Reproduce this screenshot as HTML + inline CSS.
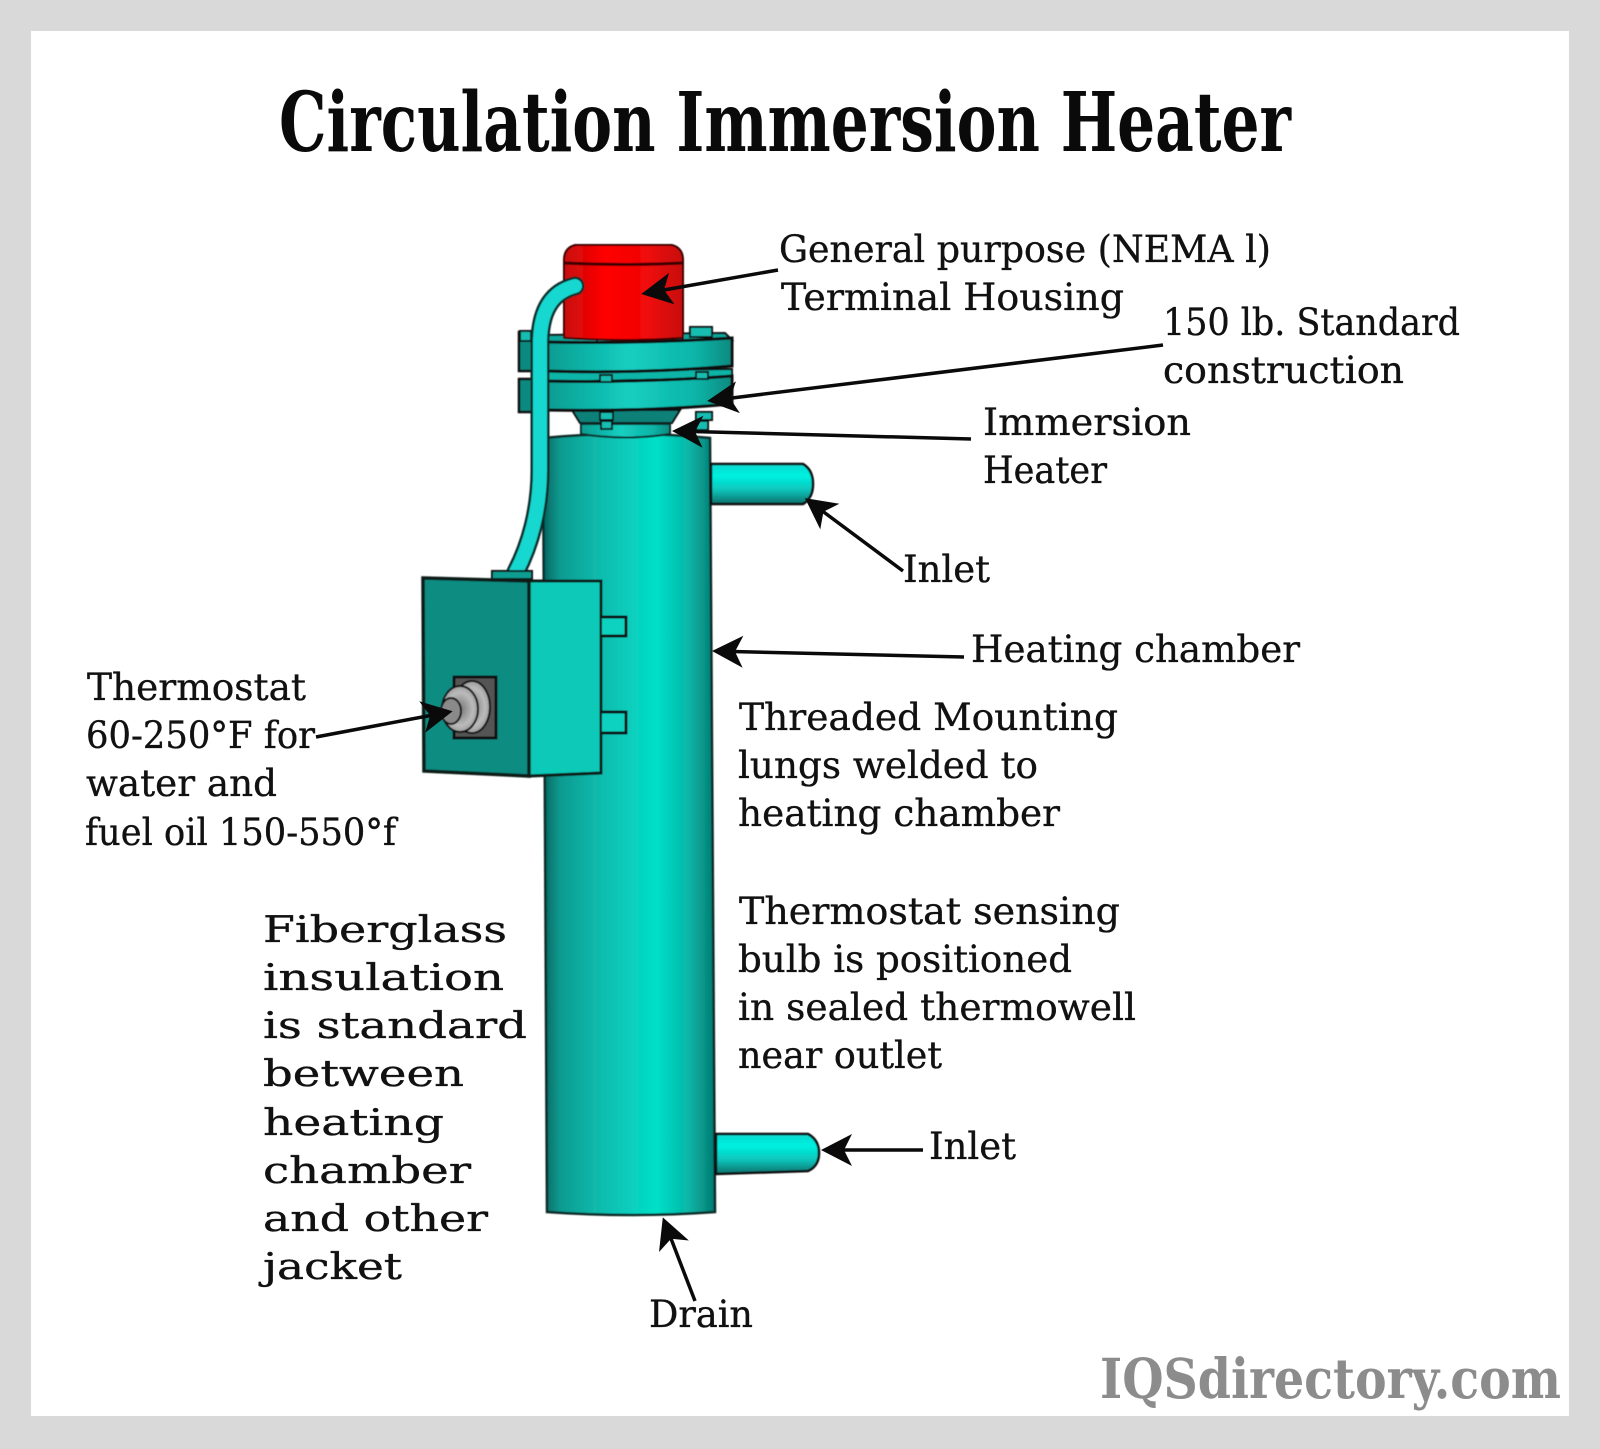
<!DOCTYPE html>
<html><head><meta charset="utf-8"><style>html,body{margin:0;padding:0;background:#fff}svg{display:block}
.t{font-family:"DejaVu Serif","Liberation Serif",serif;font-size:37px;fill:#111;stroke:#111;stroke-width:.35}
.w{font-family:"DejaVu Serif","Liberation Serif",serif;font-size:36px;fill:#111;stroke:#111;stroke-width:.35}
</style></head><body>
<svg width="1600" height="1449" viewBox="0 0 1600 1449" xmlns="http://www.w3.org/2000/svg">
<defs>
<filter id="soft" x="-5%" y="-5%" width="110%" height="110%"><feGaussianBlur stdDeviation="0.6"/></filter>
<linearGradient id="body" x1="0" x2="1" y1="0" y2="0"><stop offset="0" stop-color="#056660"/><stop offset=".1" stop-color="#0a9a90"/><stop offset=".3" stop-color="#12b8aa"/><stop offset=".5" stop-color="#0acdbc"/><stop offset=".66" stop-color="#00e0c8"/><stop offset=".85" stop-color="#08b5a6"/><stop offset="1" stop-color="#067a72"/></linearGradient>
<linearGradient id="pipe" x1="0" x2="0" y1="0" y2="1"><stop offset="0" stop-color="#0ad8d0"/><stop offset=".3" stop-color="#00f0e0"/><stop offset=".65" stop-color="#0bc4ba"/><stop offset="1" stop-color="#066f6a"/></linearGradient>
<linearGradient id="red" x1="0" x2="1" y1="0" y2="0"><stop offset="0" stop-color="#c80c0c"/><stop offset=".35" stop-color="#f00"/><stop offset=".7" stop-color="#f00808"/><stop offset="1" stop-color="#c81010"/></linearGradient>
<linearGradient id="fl" x1="0" x2="1" y1="0" y2="0"><stop offset="0" stop-color="#0a9a90"/><stop offset=".45" stop-color="#14cfc0"/><stop offset=".8" stop-color="#0fb5a8"/><stop offset="1" stop-color="#0a8a80"/></linearGradient>
<radialGradient id="g" cx=".5" cy=".5" r=".6"><stop offset="0" stop-color="#777"/><stop offset=".6" stop-color="#bbb"/><stop offset="1" stop-color="#888"/></radialGradient>
<marker id="a" markerUnits="userSpaceOnUse" markerWidth="60" markerHeight="60" refX="0" refY="0" orient="auto" overflow="visible"><path d="M20 0L-11 -16L-3 0L-11 16Z" fill="#0a0a0a"/></marker>
</defs>
<rect width="1600" height="1449" fill="#d9d9d9"/>
<rect x="31" y="31" width="1538" height="1385" fill="#fff"/>
<text x="279" y="151" font-family="'DejaVu Serif','Liberation Serif',serif" font-weight="700" font-size="82" fill="#0a0a0a" textLength="1012" lengthAdjust="spacingAndGlyphs">Circulation Immersion Heater</text>

<g filter="url(#soft)">
<!-- body -->
<path d="M543 438Q627 430 710 438L715 1212Q631 1218 547 1212Z" fill="url(#body)" stroke="#0a2a28" stroke-width="2.5"/>
<!-- pipes -->
<path d="M711 464H803Q813 470 813 484Q813 498 803 504H711Z" fill="url(#pipe)" stroke="#0a0a0a" stroke-width="2.5"/>
<path d="M716 1134H808Q819 1140 819 1153Q819 1166 808 1171L716 1174Z" fill="url(#pipe)" stroke="#0a0a0a" stroke-width="2.5"/>
<!-- neck and collar -->
<path d="M572 410H680L672 423H580Z" fill="#0a8078" stroke="#0a0a0a" stroke-width="2"/>
<path d="M581 424H670V434Q625 441 581 434Z" fill="url(#fl)" stroke="#0a2a28" stroke-width="2"/>
<!-- bolts lower -->
<g fill="#14bdb0" stroke="#0a0a0a" stroke-width="2"><rect x="600" y="412" width="13" height="8"/><rect x="601" y="421" width="11" height="8"/><rect x="696" y="412" width="16" height="8"/><rect x="696" y="421" width="12" height="9"/></g>
<!-- flange back/side pieces -->
<rect x="519" y="332" width="28" height="39" fill="#0a8a80" stroke="#0a0a0a" stroke-width="2.5"/>
<rect x="519" y="379" width="28" height="33" fill="#0a8a80" stroke="#0a0a0a" stroke-width="2.5"/>
<path d="M547 335L725 333L732 340L547 344Z" fill="#0ea59a" stroke="#0a0a0a" stroke-width="2"/>
<path d="M547 371L732 369V378L547 382Z" fill="#0cb5a8" stroke="#0a0a0a" stroke-width="2"/>
<!-- flanges -->
<path d="M545 381Q640 383 732 376V404Q640 412 545 410Z" fill="url(#fl)" stroke="#0a0a0a" stroke-width="3"/>
<path d="M545 342Q640 344 732 338V366Q640 374 545 371Z" fill="url(#fl)" stroke="#0a0a0a" stroke-width="3"/>
<!-- bolts upper -->
<g fill="#14bdb0" stroke="#0a0a0a" stroke-width="2"><rect x="690" y="327" width="22" height="10"/><rect x="597" y="334" width="16" height="8"/><rect x="520" y="331" width="11" height="10"/><rect x="600" y="375" width="12" height="7"/><rect x="696" y="372" width="12" height="7"/></g>
<!-- red housing -->
<path d="M564 338V260Q564 248 575 245H672Q683 248 683 260V338Q624 342 564 338Z" fill="url(#red)" stroke="#3a0505" stroke-width="2"/>
<path d="M564 263Q624 266 683 263" fill="none" stroke="#3a0505" stroke-width="3"/>
<!-- cable -->
<path d="M575 286C556 291 541 305 540 340L540 470C540 510 530 545 516 572" fill="none" stroke="#0a2a28" stroke-width="19" stroke-linecap="round"/>
<path d="M575 286C556 291 541 305 540 340L540 470C540 510 530 545 516 572" fill="none" stroke="#17d8d0" stroke-width="14" stroke-linecap="round"/>
<!-- box -->
<rect x="492" y="571" width="40" height="8" fill="#0d9d92" stroke="#0a0a0a" stroke-width="2"/>
<path d="M529 581L601 581V773L529 776Z" fill="#0ec9b8" stroke="#0a1a18" stroke-width="3"/>
<path d="M423 578L529 581V776L424 771Z" fill="#078c82" stroke="#0a1a18" stroke-width="3.5"/>
<path d="M602 617H626V636H602M602 712H626V733H602" fill="#0fd2c0" stroke="#0a0a0a" stroke-width="3"/>
<rect x="454" y="677" width="42" height="61" fill="#555" stroke="#0a0a0a" stroke-width="3"/>
<ellipse cx="472" cy="707" rx="18" ry="26" fill="url(#g)" stroke="#111" stroke-width="2"/>
<ellipse cx="460" cy="709" rx="18" ry="23" fill="url(#g)" stroke="#111" stroke-width="2"/>
<ellipse cx="451" cy="711" rx="10" ry="13" fill="#8a8a8a" stroke="#111" stroke-width="2"/>
</g>
<!-- arrows -->
<g fill="none" stroke="#0a0a0a" stroke-width="3.5">
<line x1="778" y1="270" x2="661" y2="290.5" marker-end="url(#a)"/>
<line x1="1163" y1="345" x2="727" y2="398.6" marker-end="url(#a)"/>
<line x1="971" y1="439" x2="692" y2="431.5" marker-end="url(#a)"/>
<line x1="903" y1="571" x2="821" y2="510" marker-end="url(#a)"/>
<line x1="964" y1="657" x2="732" y2="651.5" marker-end="url(#a)"/>
<line x1="923" y1="1150" x2="841" y2="1150" marker-end="url(#a)"/>
<line x1="695" y1="1301" x2="670" y2="1236" marker-end="url(#a)"/>
<line x1="316" y1="737" x2="433" y2="715" marker-end="url(#a)"/>
</g>
<!-- labels -->
<g transform="translate(0,-2)">
<text class="t" x="779" y="264" textLength="492" lengthAdjust="spacingAndGlyphs">General purpose (NEMA l)</text>
<text class="t" x="781" y="312" textLength="343" lengthAdjust="spacingAndGlyphs">Terminal Housing</text>
<text class="t" x="1163" y="337" textLength="297" lengthAdjust="spacingAndGlyphs">150 lb. Standard</text>
<text class="t" x="1163" y="385" textLength="241" lengthAdjust="spacingAndGlyphs">construction</text>
<text class="t" x="983" y="437" textLength="208" lengthAdjust="spacingAndGlyphs">Immersion</text>
<text class="t" x="983" y="485" textLength="124" lengthAdjust="spacingAndGlyphs">Heater</text>
<text class="t" x="903" y="584" textLength="87" lengthAdjust="spacingAndGlyphs">Inlet</text>
<text class="t" x="971" y="664" textLength="329" lengthAdjust="spacingAndGlyphs">Heating chamber</text>
<text class="t" x="739" y="732" textLength="379" lengthAdjust="spacingAndGlyphs">Threaded Mounting</text>
<text class="t" x="738" y="780" textLength="300" lengthAdjust="spacingAndGlyphs">lungs welded to</text>
<text class="t" x="738" y="828" textLength="322" lengthAdjust="spacingAndGlyphs">heating chamber</text>
<text class="t" x="739" y="926" textLength="381" lengthAdjust="spacingAndGlyphs">Thermostat sensing</text>
<text class="t" x="738" y="974" textLength="334" lengthAdjust="spacingAndGlyphs">bulb is positioned</text>
<text class="t" x="738" y="1022" textLength="398" lengthAdjust="spacingAndGlyphs">in sealed thermowell</text>
<text class="t" x="738" y="1070" textLength="204" lengthAdjust="spacingAndGlyphs">near outlet</text>
<text class="t" x="929" y="1161" textLength="87" lengthAdjust="spacingAndGlyphs">Inlet</text>
<text class="t" x="649" y="1329" textLength="104" lengthAdjust="spacingAndGlyphs">Drain</text>
<text class="t" x="87" y="702" textLength="219" lengthAdjust="spacingAndGlyphs">Thermostat</text>
<text class="t" x="86" y="750" textLength="229" lengthAdjust="spacingAndGlyphs">60-250°F for</text>
<text class="t" x="86" y="798" textLength="191" lengthAdjust="spacingAndGlyphs">water and</text>
<text class="t" x="85" y="847" textLength="311" lengthAdjust="spacingAndGlyphs">fuel oil 150-550°f</text>
<text class="w" x="263" y="944" textLength="244" lengthAdjust="spacingAndGlyphs">Fiberglass</text>
<text class="w" x="263" y="992" textLength="241" lengthAdjust="spacingAndGlyphs">insulation</text>
<text class="w" x="263" y="1040" textLength="264" lengthAdjust="spacingAndGlyphs">is standard</text>
<text class="w" x="263" y="1088" textLength="201" lengthAdjust="spacingAndGlyphs">between</text>
<text class="w" x="263" y="1137" textLength="181" lengthAdjust="spacingAndGlyphs">heating</text>
<text class="w" x="263" y="1185" textLength="208" lengthAdjust="spacingAndGlyphs">chamber</text>
<text class="w" x="263" y="1233" textLength="225" lengthAdjust="spacingAndGlyphs">and other</text>
<text class="w" x="263" y="1281" textLength="139" lengthAdjust="spacingAndGlyphs">jacket</text>
</g>
<text x="1100" y="1398" font-family="'DejaVu Serif','Liberation Serif',serif" font-weight="700" font-size="55" fill="#8c8c8c" textLength="461" lengthAdjust="spacingAndGlyphs">IQSdirectory.com</text>
</svg></body></html>
